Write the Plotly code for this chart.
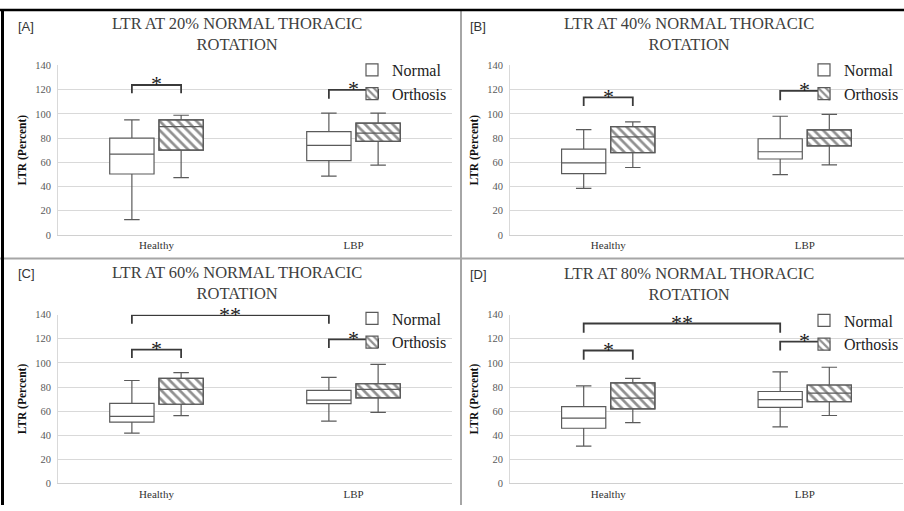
import plotly.graph_objects as go
from plotly.subplots import make_subplots

# ---------------- data ----------------
categories = ["Healthy", "LBP"]
panel_letters = ["[A]", "[B]", "[C]", "[D]"]
panel_titles = [
    "LTR AT 20% NORMAL THORACIC<br>ROTATION",
    "LTR AT 40% NORMAL THORACIC<br>ROTATION",
    "LTR AT 60% NORMAL THORACIC<br>ROTATION",
    "LTR AT 80% NORMAL THORACIC<br>ROTATION",
]
series_names = ["Normal", "Orthosis"]
y_ticks = [0, 20, 40, 60, 80, 100, 120, 140]

# box statistics per panel: [Healthy, LBP]
normal_low = [[12.7, 48.5], [38.5, 49.8], [41.7, 51.7], [31.0, 46.9]]
normal_q1 = [[50.3, 61.4], [50.6, 62.7], [50.9, 66.2], [45.8, 63.2]]
normal_med = [[66.8, 74.0], [59.5, 68.7], [55.7, 69.2], [54.2, 69.5]]
normal_q3 = [[80.0, 85.3], [70.8, 79.4], [66.5, 77.3], [63.7, 76.3]]
normal_high = [[95.0, 100.5], [87.0, 98.0], [85.4, 88.0], [80.9, 92.6]]

orth_low = [[47.4, 57.6], [55.7, 57.9], [56.3, 59.0], [50.4, 56.4]]
orth_q1 = [[70.0, 77.3], [67.9, 73.5], [65.7, 71.0], [61.8, 67.8]]
orth_med = [[89.4, 84.0], [81.0, 80.0], [78.0, 78.0], [70.8, 75.0]]
orth_q3 = [[95.0, 92.3], [89.4, 86.7], [87.2, 82.7], [83.4, 81.7]]
orth_high = [[98.8, 100.5], [93.4, 99.6], [92.0, 98.8], [87.2, 96.4]]

# significance brackets: (from group, from series, to group, to series, top, leg end, label)
brackets = [
    [(0, 0, 0, 1, 123.8, 117.0, "*"), (1, 0, 1, 1, 119.8, 112.5, "*")],
    [(0, 0, 0, 1, 113.6, 106.4, "*"), (1, 0, 1, 1, 119.0, 111.2, "*")],
    [(0, 0, 1, 0, 139.7, 132.5, "**"), (0, 0, 0, 1, 111.0, 104.0, "*"), (1, 0, 1, 1, 119.5, 112.3, "*")],
    [(0, 0, 1, 0, 132.7, 125.1, "**"), (0, 0, 0, 1, 110.3, 102.7, "*"), (1, 0, 1, 1, 117.7, 110.3, "*")],
]

# ---------------- layout helpers ----------------
W, H = 904, 511
def px(xp):
    return xp / W
def py(yp):
    return 1 - yp / H

SERIF = "Liberation Serif"
BOX_LINE = "#5a5a5a"
OFFSET = 0.125
BOX_W = 0.225

x_domains = [[58, 452], [510, 903], [58, 452], [510, 903]]
y_domains = [[61.7, 235], [61.7, 235], [316.5, 489], [316.5, 489]]
title_pos = [(237, 30), (689, 30), (237, 284), (689, 285)]
letter_pos = [(26, 22), (478, 22), (26, 274), (478, 275)]
legend_pos = [(352, 49), (804, 49), (352, 303), (804, 305)]

fig = make_subplots(rows=2, cols=2)

annotations = []
for p in range(4):
    row, col = p // 2 + 1, p % 2 + 1
    leg = "legend" if p == 0 else f"legend{p + 1}"
    n_pos = [i - OFFSET for i in range(len(categories))]
    o_pos = [i + OFFSET for i in range(len(categories))]

    # hatched fill for orthosis boxes (q1..q3)
    fig.add_trace(go.Bar(
        x=o_pos, y=[q3 - q1 for q1, q3 in zip(orth_q1[p], orth_q3[p])], base=orth_q1[p],
        width=BOX_W, name=series_names[1], legend=leg, legendgroup="o",
        marker=dict(color="white", line=dict(color=BOX_LINE, width=1.2),
                    pattern=dict(shape="\\", fgcolor="#222222", bgcolor="white", size=6.5, solidity=0.42)),
        hoverinfo="skip", legendrank=2,
    ), row=row, col=col)
    # normal boxes
    fig.add_trace(go.Box(
        x=n_pos, q1=normal_q1[p], median=normal_med[p], q3=normal_q3[p],
        lowerfence=normal_low[p], upperfence=normal_high[p],
        width=BOX_W, whiskerwidth=0.35, fillcolor="white",
        line=dict(color=BOX_LINE, width=1.2), name=series_names[0],
        legend=leg, legendgroup="n", legendrank=1, hoverinfo="skip",
    ), row=row, col=col)
    # orthosis box outlines / medians / whiskers
    fig.add_trace(go.Box(
        x=o_pos, q1=orth_q1[p], median=orth_med[p], q3=orth_q3[p],
        lowerfence=orth_low[p], upperfence=orth_high[p],
        width=BOX_W, whiskerwidth=0.35, fillcolor="rgba(0,0,0,0)",
        line=dict(color=BOX_LINE, width=1.2), name=series_names[1],
        showlegend=False, legend=leg, hoverinfo="skip",
    ), row=row, col=col)

    # significance brackets
    for (g1, s1, g2, s2, top, leg_end, label) in brackets[p]:
        xa = g1 + (OFFSET if s1 else -OFFSET)
        xb = g2 + (OFFSET if s2 else -OFFSET)
        fig.add_trace(go.Scatter(
            x=[xa, xa, xb, xb], y=[leg_end, top, top, leg_end], mode="lines",
            line=dict(color="#3a3a3a", width=1.8), showlegend=False, hoverinfo="skip",
        ), row=row, col=col)
        xref = "x" if p == 0 else f"x{p + 1}"
        yref = "y" if p == 0 else f"y{p + 1}"
        annotations.append(dict(
            x=(xa + xb) / 2, y=top, xref=xref, yref=yref, text=label, showarrow=False,
            xanchor="center", yanchor="middle", yshift=1,
            font=dict(family=SERIF, size=22, color="#1a1a1a"),
        ))

    # axes
    fig.update_xaxes(
        domain=[px(x_domains[p][0]), px(x_domains[p][1])], range=[-0.5, 1.5],
        tickvals=list(range(len(categories))), ticktext=categories, ticks="",
        showgrid=False, zeroline=False, showline=True, linecolor="#d0d0d0", linewidth=1,
        tickfont=dict(family=SERIF, size=11, color="#333333"), fixedrange=True,
        row=row, col=col,
    )
    fig.update_yaxes(
        domain=[py(y_domains[p][1]), py(y_domains[p][0])], range=[0, 140],
        tickvals=y_ticks, ticks="", showgrid=True, gridcolor="#d9d9d9", gridwidth=1,
        zeroline=False, showline=True, linecolor="#d9d9d9", linewidth=1,
        tickfont=dict(family=SERIF, size=10.5, color="#595959"), ticklabelstandoff=4,
        title=dict(text="<b>LTR (Percent)</b>", standoff=6,
                   font=dict(family=SERIF, size=11.5, color="#111111")),
        fixedrange=True, row=row, col=col,
    )

    # titles and panel letters
    annotations.append(dict(
        x=px(title_pos[p][0]), y=py(title_pos[p][1]), xref="paper", yref="paper",
        text=panel_titles[p], showarrow=False, xanchor="center", yanchor="middle",
        font=dict(family=SERIF, size=16.5, color="#404040"),
    ))
    annotations.append(dict(
        x=px(letter_pos[p][0]), y=py(letter_pos[p][1]), xref="paper", yref="paper",
        text=panel_letters[p], showarrow=False, xanchor="center", yanchor="middle",
        font=dict(family="Liberation Sans", size=13, color="#333333"),
    ))

    legend_cfg = dict(
        x=px(legend_pos[p][0]), y=py(legend_pos[p][1]), xanchor="left", yanchor="top",
        bgcolor="rgba(0,0,0,0)", borderwidth=0, tracegroupgap=0,
        font=dict(family=SERIF, size=16, color="#222222"), itemwidth=30,
    )
    fig.update_layout(**{leg: legend_cfg})

shapes = [
    # panel dividers
    dict(type="line", xref="paper", yref="paper", x0=px(461), x1=px(461), y0=0, y1=py(5),
         line=dict(color="#a6a6a6", width=2)),
    dict(type="line", xref="paper", yref="paper", x0=0, x1=1, y0=py(259), y1=py(259),
         line=dict(color="#a6a6a6", width=2)),
    # outer black frame (top and left)
    dict(type="line", xref="paper", yref="paper", x0=0, x1=1, y0=py(5), y1=py(5),
         line=dict(color="#000000", width=2.5)),
    dict(type="line", xref="paper", yref="paper", x0=px(2.5), x1=px(2.5), y0=0, y1=py(4),
         line=dict(color="#000000", width=3)),
]

fig.update_layout(
    width=W, height=H, margin=dict(l=0, r=0, t=0, b=0),
    paper_bgcolor="white", plot_bgcolor="white",
    showlegend=True, barmode="overlay", boxmode="overlay",
    annotations=annotations, shapes=shapes,
)

fig.write_html(
    "out.html",
    config={"displayModeBar": False},
    post_script="document.body.style.margin='0';document.body.style.padding='0';",
)
